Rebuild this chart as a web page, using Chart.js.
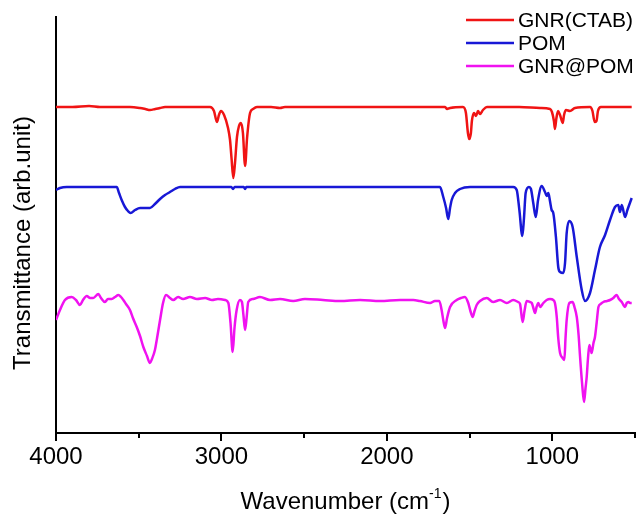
<!DOCTYPE html>
<html>
<head>
<meta charset="utf-8">
<script src="https://cdn.jsdelivr.net/npm/chart.js@4.4.1/dist/chart.umd.min.js"></script>
<style>
  html, body { margin: 0; padding: 0; background: #ffffff; }
  canvas { display: block; }
</style>
</head>
<body>
<canvas id="ftir" width="641" height="518"></canvas>
<script>
// FTIR spectra, transmittance in arbitrary (offset) units vs wavenumber (cm-1)
const seriesNames = ['GNR(CTAB)', 'POM', 'GNR@POM'];
const seriesColors = ['#f01414', '#1818d6', '#f012f0'];

const ctabWavenumber = [4000, 3900, 3800, 3734, 3650, 3553, 3492, 3460, 3432, 3400, 3371, 3341, 3200, 3069, 3045, 3027, 3015, 3003, 2984, 2960, 2948, 2939, 2928, 2918, 2906, 2894, 2882, 2870, 2857, 2845, 2827, 2809, 2785, 2700, 2646, 2616, 2400, 2200, 2000, 1800, 1648, 1636, 1618, 1540, 1522, 1510, 1502, 1492, 1486, 1473, 1461, 1449, 1437, 1419, 1395, 1300, 1200, 1074, 1014, 1002, 990, 984, 975, 965, 953, 937, 929, 917, 893, 863, 772, 757, 744, 733, 724, 706, 600, 520];
const ctabSignal = [326, 326, 327, 326, 326, 326, 325, 324, 323, 324, 325, 326, 326, 326, 322, 311, 318, 322, 318, 305, 293, 275, 255, 270, 296, 307, 310, 300, 267, 295, 320, 324, 326, 326, 325, 326, 326, 326, 326, 326, 326, 324, 325, 326, 320, 300, 294, 300, 312, 320, 317, 322, 319, 323, 326, 326, 326, 325, 324, 321, 312, 304, 315, 322, 318, 310, 318, 323, 322, 325, 326, 322, 311, 312, 322, 326, 326, 326];

const pomWavenumber = [4000, 3976, 3935, 3850, 3794, 3674, 3633, 3619, 3603, 3583, 3565, 3549, 3522, 3492, 3462, 3432, 3402, 3371, 3341, 3311, 3281, 3250, 3100, 2940, 2930, 2920, 2865, 2857, 2850, 2600, 2300, 2000, 1800, 1679, 1659, 1642, 1629, 1618, 1608, 1588, 1558, 1497, 1350, 1236, 1215, 1199, 1181, 1171, 1161, 1141, 1129, 1115, 1100, 1086, 1064, 1044, 1034, 1024, 1014, 1004, 994, 978, 964, 953, 933, 923, 913, 897, 877, 852, 822, 802, 772, 742, 712, 681, 651, 621, 601, 591, 580, 560, 546, 520];
const pomSignal = [243, 245, 246, 246, 246, 246, 246, 240, 233, 226, 222, 220, 223, 225, 225, 225, 229, 234, 238, 241, 244, 246, 246, 246, 244, 246, 246, 244, 246, 246, 246, 246, 246, 246, 236, 225, 214, 225, 233, 240, 244, 246, 246, 246, 243, 223, 197, 215, 240, 246, 244, 230, 216, 233, 247, 241, 237, 240, 232, 223, 220, 196, 166, 161, 160, 170, 200, 212, 206, 176, 143, 132, 140, 163, 186, 198, 213, 226, 228, 221, 228, 216, 223, 235];

const hybridWavenumber = [4000, 3976, 3946, 3905, 3879, 3855, 3837, 3814, 3794, 3775, 3744, 3728, 3704, 3686, 3663, 3643, 3623, 3607, 3593, 3577, 3553, 3535, 3512, 3492, 3472, 3450, 3432, 3420, 3402, 3389, 3371, 3353, 3335, 3311, 3291, 3262, 3232, 3190, 3148, 3099, 3057, 3021, 2978, 2958, 2945, 2932, 2921, 2908, 2888, 2876, 2867, 2857, 2848, 2838, 2809, 2767, 2706, 2646, 2566, 2495, 2386, 2283, 2162, 2041, 1920, 1840, 1800, 1739, 1709, 1683, 1669, 1658, 1648, 1636, 1618, 1578, 1552, 1528, 1508, 1495, 1481, 1470, 1457, 1437, 1396, 1358, 1316, 1275, 1236, 1207, 1195, 1179, 1168, 1155, 1135, 1124, 1116, 1104, 1095, 1084, 1074, 1054, 1034, 1014, 994, 984, 973, 964, 953, 937, 927, 920, 913, 897, 877, 866, 852, 841, 832, 820, 808, 799, 792, 784, 776, 769, 762, 751, 742, 732, 721, 708, 691, 669, 651, 631, 611, 597, 580, 570, 560, 550, 540, 530, 520];
const hybridSignal = [113, 123, 133, 136, 133, 128, 133, 137, 135, 135, 139, 135, 131, 134, 134, 136, 138, 136, 133, 129, 123, 115, 106, 97, 86, 77, 70, 74, 83, 95, 113, 130, 138, 135, 133, 136, 134, 136, 134, 135, 133, 134, 133, 130, 110, 81, 105, 123, 133, 131, 118, 103, 115, 131, 134, 136, 133, 134, 132, 134, 133, 132, 133, 132, 133, 133, 132, 130, 132, 132, 123, 112, 105, 115, 126, 133, 135, 136, 130, 122, 116, 122, 128, 132, 135, 131, 133, 130, 133, 131, 129, 111, 122, 132, 131, 130, 126, 120, 126, 130, 126, 130, 133, 134, 133, 130, 116, 95, 80, 75, 73, 95, 113, 130, 131, 126, 116, 98, 76, 50, 31, 45, 56, 75, 88, 84, 80, 90, 96, 110, 126, 129, 131, 132, 133, 135, 138, 134, 131, 128, 126, 130, 131, 130, 130];

const majorTicks = [4000, 3000, 2000, 1000];
const minorTicks = [3500, 2500, 1500, 500];
const xTitle = 'Wavenumber (cm';
const xTitleSup = '-1';
const yTitle = 'Transmittance (arb.unit)';

const FONT = '"Liberation Sans", Arial, Helvetica, sans-serif';

function toPoints(xs, ys) {
  return xs.map((x, i) => ({ x: x, y: ys[i] }));
}

const spectra = [
  toPoints(ctabWavenumber, ctabSignal),
  toPoints(pomWavenumber, pomSignal),
  toPoints(hybridWavenumber, hybridSignal)
];

// Tick marks, axis titles and the legend box
const decorations = {
  id: 'decorations',
  afterDraw(chart) {
    const { ctx, chartArea, scales } = chart;
    const xs = scales.x;
    ctx.save();
    ctx.strokeStyle = '#000';
    ctx.lineWidth = 2;
    ctx.lineCap = 'butt';
    const drawTick = (v, len) => {
      const px = Math.round(xs.getPixelForValue(v));
      ctx.beginPath();
      ctx.moveTo(px, chartArea.bottom);
      ctx.lineTo(px, chartArea.bottom + len);
      ctx.stroke();
    };
    majorTicks.forEach(v => drawTick(v, 8));
    minorTicks.forEach(v => drawTick(v, 5));

    // x-axis title with superscript exponent
    ctx.fillStyle = '#000';
    ctx.textBaseline = 'alphabetic';
    ctx.textAlign = 'left';
    const mainFont = '24px ' + FONT;
    const supFont = '14px ' + FONT;
    ctx.font = mainFont;
    const w1 = ctx.measureText(xTitle).width;
    const w3 = ctx.measureText(')').width;
    ctx.font = supFont;
    const w2 = ctx.measureText(xTitleSup).width;
    const total = w1 + w2 + 1 + w3;
    let tx = (chartArea.left + chartArea.right) / 2 - total / 2;
    const baseY = 509;
    ctx.font = mainFont;
    ctx.fillText(xTitle, tx, baseY);
    tx += w1;
    ctx.font = supFont;
    ctx.fillText(xTitleSup, tx, baseY - 11);
    tx += w2 + 1;
    ctx.font = mainFont;
    ctx.fillText(')', tx, baseY);

    // y-axis title
    ctx.save();
    ctx.translate(23, (chartArea.top + chartArea.bottom) / 2 + 18);
    ctx.rotate(-Math.PI / 2);
    ctx.textAlign = 'center';
    ctx.textBaseline = 'middle';
    ctx.font = '24px ' + FONT;
    ctx.fillText(yTitle, 0, 0);
    ctx.restore();

    // legend
    const legendX = 466, lineLen = 48, rowTop = 20, rowGap = 23;
    ctx.font = '21px ' + FONT;
    ctx.textAlign = 'left';
    ctx.textBaseline = 'middle';
    seriesNames.forEach((name, i) => {
      const y = rowTop + i * rowGap;
      ctx.strokeStyle = seriesColors[i];
      ctx.lineWidth = 2.4;
      ctx.beginPath();
      ctx.moveTo(legendX, y);
      ctx.lineTo(legendX + lineLen, y);
      ctx.stroke();
      ctx.fillStyle = '#000';
      ctx.fillText(name, legendX + lineLen + 4, y + 1);
    });
    ctx.restore();
  }
};

new Chart(document.getElementById('ftir'), {
  type: 'line',
  data: {
    datasets: spectra.map((pts, i) => ({
      label: seriesNames[i],
      data: pts,
      borderColor: seriesColors[i],
      backgroundColor: seriesColors[i],
      borderWidth: 2.5,
      pointRadius: 0,
      fill: false,
      cubicInterpolationMode: 'monotone',
      borderJoinStyle: 'round'
    }))
  },
  options: {
    responsive: false,
    animation: false,
    layout: { padding: { top: 17, right: 6, bottom: 0, left: 0 } },
    plugins: {
      legend: { display: false },
      tooltip: { enabled: false }
    },
    scales: {
      x: {
        type: 'linear',
        reverse: true,
        min: 500,
        max: 4000,
        afterBuildTicks(scale) {
          scale.ticks = majorTicks.map(v => ({ value: v }));
        },
        afterFit(scale) { scale.height = 85; },
        grid: { display: false, drawTicks: false, tickLength: 0 },
        border: { display: true, color: '#000', width: 2 },
        ticks: {
          autoSkip: false,
          maxRotation: 0,
          padding: 10,
          color: '#000',
          font: { family: FONT, size: 24 },
          callback: v => String(v)
        }
      },
      y: {
        min: 0,
        max: 416,
        afterFit(scale) { scale.width = 56; },
        grid: { display: false, drawTicks: false },
        border: { display: true, color: '#000', width: 2 },
        ticks: { display: false }
      }
    }
  },
  plugins: [decorations]
});
</script>
</body>
</html>
